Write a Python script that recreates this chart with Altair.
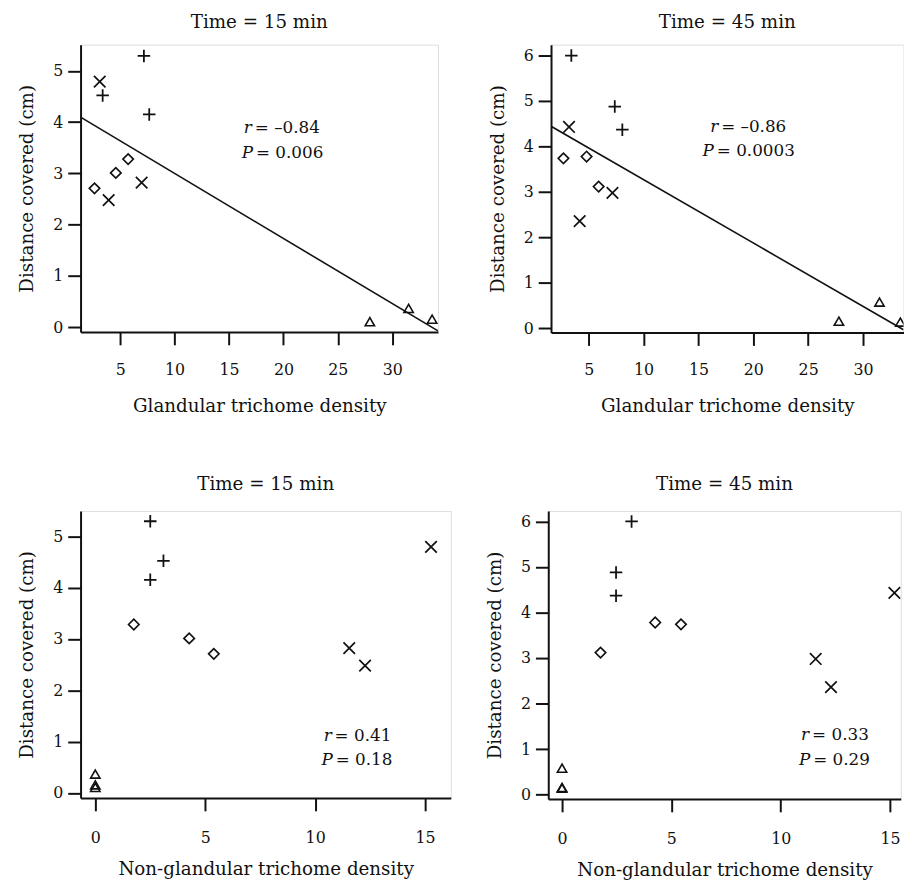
import altair as alt
import pandas as pd

F = "DejaVu Serif"
INK = "#111111"

# ---------------- data ----------------
groups = ["G1", "G1", "G1", "G2", "G2", "G2", "G3", "G3", "G3", "G4", "G4", "G4"]

dist15 = [5.29, 4.52, 4.15, 4.79, 2.48, 2.82, 2.71, 3.01, 3.28, 0.11, 0.37, 0.16]
dist45 = [6.00, 4.88, 4.37, 4.43, 2.36, 2.98, 3.74, 3.78, 3.12, 0.16, 0.58, 0.14]

gland15 = [7.18, 3.39, 7.67, 3.12, 3.94, 6.97, 2.64, 4.60, 5.73, 27.94, 31.50, 33.66]
gland45 = [3.41, 7.37, 8.06, 3.20, 4.17, 7.16, 2.69, 4.80, 5.90, 27.80, 31.50, 33.40]

nongland15 = [2.50, 3.10, 2.50, 15.27, 12.27, 11.55, 5.39, 4.27, 1.75, 0.0, 0.0, 0.0]
nongland45 = [3.18, 2.47, 2.47, 15.20, 12.30, 11.60, 5.44, 4.26, 1.76, 0.0, 0.0, 0.0]

stat_sym = ["r", "P"]
NB = "\u00a0"
stats = {
    "g15": [NB + "= \u20130.84", NB + "= 0.006"],
    "g45": [NB + "= \u20130.86", NB + "= 0.0003"],
    "n15": [NB + "= 0.41", NB + "= 0.18"],
    "n45": [NB + "= 0.33", NB + "= 0.29"],
}
# annotation anchors (data coordinates)
ann_x = {"g15": [17.1, 17.2], "g45": [16.8, 16.4], "n15": [10.75, 10.8], "n45": [11.3, 11.35]}
ann_y = {"g15": [3.89, 3.40], "g45": [4.43, 3.89], "n15": [1.115, 0.64], "n45": [1.31, 0.77]}

shape_domain = ["G1", "G2", "G3", "G4"]
shape_range = ["M-1,0L1,0M0,-1L0,1", "M-1,-1L1,1M-1,1L1,-1", "diamond", "triangle-up"]
size_range = [160, 90, 62, 230]
sw_range = [1.8, 1.6, 1.4, 2.0]


def panel(xs, ys, key, xdom, ydom, w, h, xticks, yticks, xtitle, title, toff,
          lpad, tpad, reg_extent=None):
    df = pd.DataFrame({"x": xs, "y": ys, "g": groups})
    base = alt.Chart(df)
    common = dict(
        labelFontSize=16, titleFontSize=18.5, labelFont=F, titleFont=F,
        titleFontWeight="normal", domainColor=INK, tickColor=INK, domainWidth=2,
        tickWidth=2, labelColor=INK, titleColor=INK, grid=False, format="d",
        labelFlush=False, labelOverlap=False, tickSize=13,
    )
    xenc = alt.X(
        "x:Q",
        scale=alt.Scale(domain=xdom, nice=False, zero=False),
        axis=alt.Axis(values=xticks, title=xtitle, labelPadding=lpad, titlePadding=tpad, **common),
    )
    yenc = alt.Y(
        "y:Q",
        scale=alt.Scale(domain=ydom, nice=False, zero=False),
        axis=alt.Axis(values=yticks, title="Distance covered (cm)", labelPadding=5,
                      titlePadding=16, **common),
    )
    pts = base.mark_point(filled=False, color=INK, opacity=1, clip=True).encode(
        x=xenc,
        y=yenc,
        shape=alt.Shape("g:N", scale=alt.Scale(domain=shape_domain, range=shape_range), legend=None),
        size=alt.Size("g:N", scale=alt.Scale(domain=shape_domain, range=size_range), legend=None),
        strokeWidth=alt.StrokeWidth("g:N", scale=alt.Scale(domain=shape_domain, range=sw_range), legend=None),
    )
    layers = [pts]
    if reg_extent is not None:
        reg = base.transform_regression("x", "y", extent=reg_extent).mark_line(
            color=INK, strokeWidth=1.6, clip=True
        ).encode(x="x:Q", y="y:Q")
        layers.append(reg)
    adf = pd.DataFrame({"x": ann_x[key], "y": ann_y[key], "sym": stat_sym, "rest": stats[key]})
    abase = alt.Chart(adf)
    t1 = abase.mark_text(align="right", baseline="middle", font=F, fontSize=17,
                         fontStyle="italic", color=INK).encode(x="x:Q", y="y:Q", text="sym:N")
    t2 = abase.mark_text(align="left", baseline="middle", font=F, fontSize=17, dx=3,
                         color=INK).encode(x="x:Q", y="y:Q", text="rest:N")
    layers += [t1, t2]
    return alt.layer(*layers).properties(
        width=w, height=h,
        title=alt.TitleParams(title, offset=toff, fontSize=18.5, font=F, fontWeight="normal",
                              color=INK, baseline="alphabetic", frame="group", anchor="middle"),
    )


p1 = panel(gland15, dist15, "g15", [1.36, 34.2], [-0.09, 5.51], 362, 291,
           [5, 10, 15, 20, 25, 30], [0, 1, 2, 3, 4, 5], "Glandular trichome density",
           "Time = 15 min", -1.7, 16.9, 19.2, reg_extent=[1.36, 34.2])
p2 = panel(gland45, dist45, "g45", [1.56, 33.69], [-0.09, 6.24], 357, 291.6,
           [5, 10, 15, 20, 25, 30], [0, 1, 2, 3, 4, 5, 6], "Glandular trichome density",
           "Time = 45 min", -1.7, 16.9, 19.2, reg_extent=[1.56, 33.69])
p3 = panel(nongland15, dist15, "n15", [-0.67, 16.17], [-0.096, 5.49], 375, 290.7,
           [0, 5, 10, 15], [0, 1, 2, 3, 4, 5], "Non-glandular trichome density",
           "Time = 15 min", 2.8, 19.3, 14.4)
p4 = panel(nongland45, dist45, "n45", [-0.63, 15.49], [-0.095, 6.23], 357, 291.7,
           [0, 5, 10, 15], [0, 1, 2, 3, 4, 5, 6], "Non-glandular trichome density",
           "Time = 45 min", 2.8, 19.3, 14.4)

row1 = alt.hconcat(p1, p2, spacing=49.5)
row2 = alt.hconcat(p3, p4, spacing=33.7)

chart = alt.vconcat(row1, row2, spacing=59.3).properties(
    padding={"left": 9.5, "top": -1.5, "right": 0, "bottom": 0}
).configure_view(stroke=None).configure(background="white")

chart.save("out.html", embed_options={"renderer": "svg", "actions": False})
